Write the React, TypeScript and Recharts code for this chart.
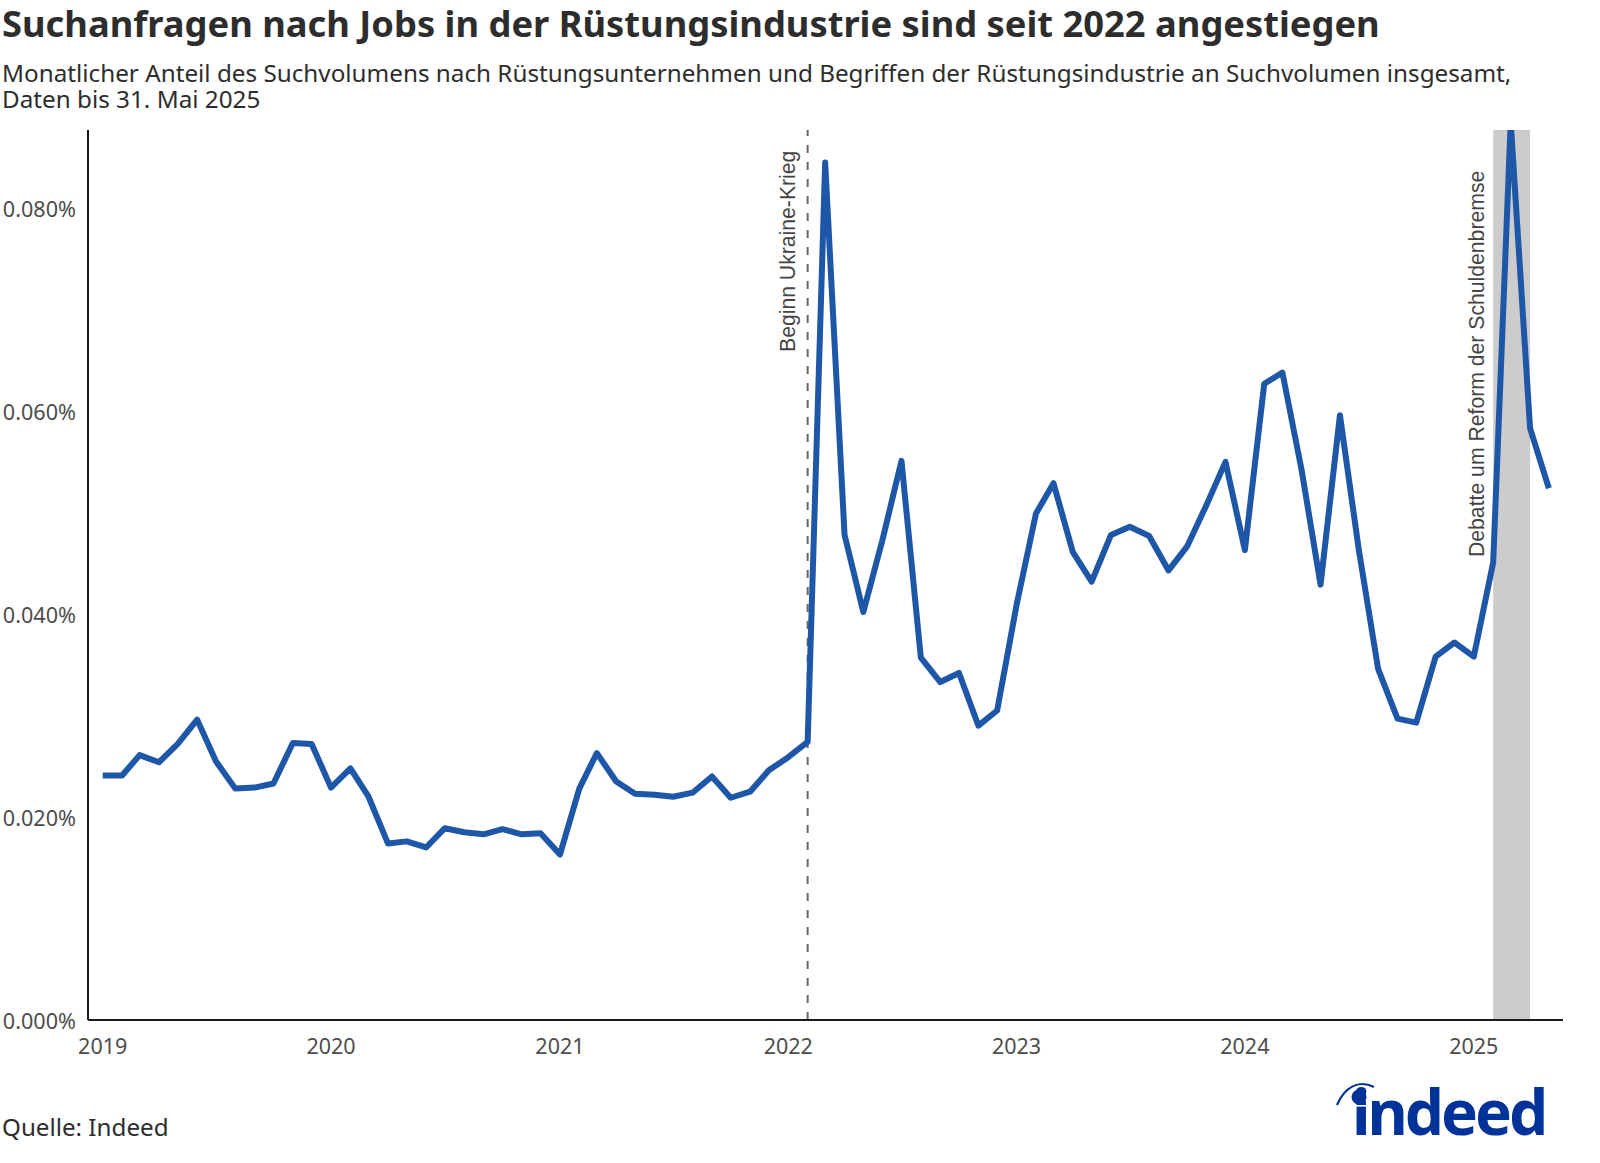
import React from 'react';
import { ComposedChart, Line, XAxis, YAxis, ReferenceLine, ReferenceArea } from 'recharts';

const FONT = '"Noto Sans", sans-serif';
const NOTE_FONT = '"Liberation Sans", Arial, sans-serif';

const startYear = 2019;
const monthCount = 77;

// monthly share in percent, Jan 2019 to May 2025
const shareValues = [
  0.0241, 0.0241, 0.0261, 0.0254, 0.0272, 0.0296, 0.0255, 0.0228, 0.0229, 0.0233, 0.0273, 0.0272,
  0.0229, 0.0248, 0.022, 0.0174, 0.0176, 0.017, 0.0189, 0.0185, 0.0183, 0.0188, 0.0183, 0.0184,
  0.0163, 0.0228, 0.0263, 0.0235, 0.0223, 0.0222, 0.022, 0.0224, 0.024, 0.0219, 0.0225, 0.0246,
  0.0259, 0.0274, 0.0845, 0.0478, 0.0402, 0.0474, 0.0551, 0.0357, 0.0333, 0.0342, 0.029, 0.0305,
  0.0409, 0.0499, 0.0529, 0.0461, 0.0432, 0.0478, 0.0486, 0.0477, 0.0443, 0.0467, 0.0508, 0.055,
  0.0463, 0.0627, 0.0638, 0.0541, 0.0429, 0.0596, 0.0464, 0.0346, 0.0297, 0.0293, 0.0358, 0.0372,
  0.0358, 0.0451, 0.0885, 0.0583, 0.0524,
];
const yTicks = [0, 0.02, 0.04, 0.06, 0.08];
const tickYears = [2019, 2020, 2021, 2022, 2023, 2024, 2025];

const dayOf = (year: number, month: number, day = 1) =>
  (Date.UTC(year, month, day) - Date.UTC(startYear, 0, 1)) / 86400000;

const data = Array.from({ length: monthCount }, (_, i) => ({
  day: dayOf(startYear, i),
  share: shareValues[i],
}));

const warStart = dayOf(2022, 1, 1);
const debateStart = dayOf(2025, 1, 1);
const debateEnd = dayOf(2025, 3, 1);

const RotatedNote = ({ text, x, y }: { text: string; x: number; y: number }) => (
  <text
    transform={`translate(${x},${y}) rotate(-90)`}
    fontFamily={NOTE_FONT}
    fontSize={21.2}
    fill="#444444"
  >
    {text}
  </text>
);

const IndeedLogo = () => (
  <svg width={240} height={113} style={{ position: 'absolute', left: 1320, top: 1045 }}>
    <path d="M 17 60 C 24 43 38 34 54 42" fill="none" stroke="#003399" strokeWidth={2.2} />
    <text
      x={32}
      y={89.5}
      fontFamily={FONT}
      fontWeight={700}
      fontSize={62}
      letterSpacing={-3}
      fill="#003399"
    >
      indeed
    </text>
    <rect x={30} y={60} width={18} height={1.6} fill="#ffffff" />
    <circle cx={39} cy={52} r={7.5} fill="#003399" />
  </svg>
);

export default function App() {
  return (
    <div style={{ position: 'absolute', left: 0, top: 0, width: 1600, height: 1163, background: '#fff' }}>
      <div style={{ position: 'absolute', left: 2, top: 0, fontFamily: FONT, fontWeight: 700, fontSize: 36.3, lineHeight: '46px', color: '#2d2d2d', whiteSpace: 'nowrap' }}>
        Suchanfragen nach Jobs in der Rüstungsindustrie sind seit 2022 angestiegen
      </div>
      <div style={{ position: 'absolute', left: 2, top: 60, fontFamily: FONT, fontSize: 24.25, lineHeight: '26px', color: '#2d2d2d', whiteSpace: 'nowrap' }}>
        Monatlicher Anteil des Suchvolumens nach Rüstungsunternehmen und Begriffen der Rüstungsindustrie an Suchvolumen insgesamt,
        <br />
        Daten bis 31. Mai 2025
      </div>
      <div style={{ position: 'absolute', left: 2, top: 1110, fontFamily: FONT, fontSize: 24.2, color: '#2d2d2d', whiteSpace: 'nowrap' }}>
        Quelle: Indeed
      </div>
      <IndeedLogo />
      <div style={{ position: 'absolute', left: 0, top: 0 }}>
        <ComposedChart
          width={1600}
          height={1163}
          data={data}
          margin={{ top: 130, right: 37, bottom: 103, left: 0 }}
        >
          <XAxis
            type="number"
            dataKey="day"
            domain={[-23.5, 2334.6]}
            ticks={tickYears.map((y) => dayOf(y, 0))}
            tickFormatter={(d: number) => String(startYear + Math.round(d / 365.25))}
            tickLine={false}
            tickMargin={13}
            height={40}
            allowDataOverflow
            interval={0}
            axisLine={{ stroke: '#1a1a1a', strokeWidth: 2 }}
            tick={{ fontFamily: FONT, fontSize: 21.5, fill: '#4d4d4d' }}
          />
          <YAxis
            type="number"
            domain={[0, 0.0877]}
            ticks={yTicks}
            tickFormatter={(v: number) => `${v.toFixed(3)}%`}
            tickLine={false}
            tickMargin={6}
            width={88}
            allowDataOverflow
            interval={0}
            axisLine={{ stroke: '#1a1a1a', strokeWidth: 2 }}
            tick={{ fontFamily: FONT, fontSize: 21.6, fill: '#4d4d4d', dy: 1 }}
          />
          <ReferenceArea x1={debateStart} x2={debateEnd} fill="#cccccc" fillOpacity={1} stroke="none" />
          <ReferenceLine
            x={warStart}
            stroke="#666666"
            strokeWidth={2}
            strokeDasharray="8 9"
            label={(p: any) => <RotatedNote text="Beginn Ukraine-Krieg" x={p.viewBox.x - 12.6} y={352} />}
          />
          <ReferenceLine
            x={debateStart}
            stroke="none"
            label={(p: any) => <RotatedNote text="Debatte um Reform der Schuldenbremse" x={p.viewBox.x - 9} y={557} />}
          />
          <Line
            dataKey="share"
            stroke="#1f57a8"
            strokeWidth={6}
            strokeLinejoin="round"
            strokeLinecap="butt"
            dot={false}
            activeDot={false}
            isAnimationActive={false}
          />
        </ComposedChart>
      </div>
    </div>
  );
}
